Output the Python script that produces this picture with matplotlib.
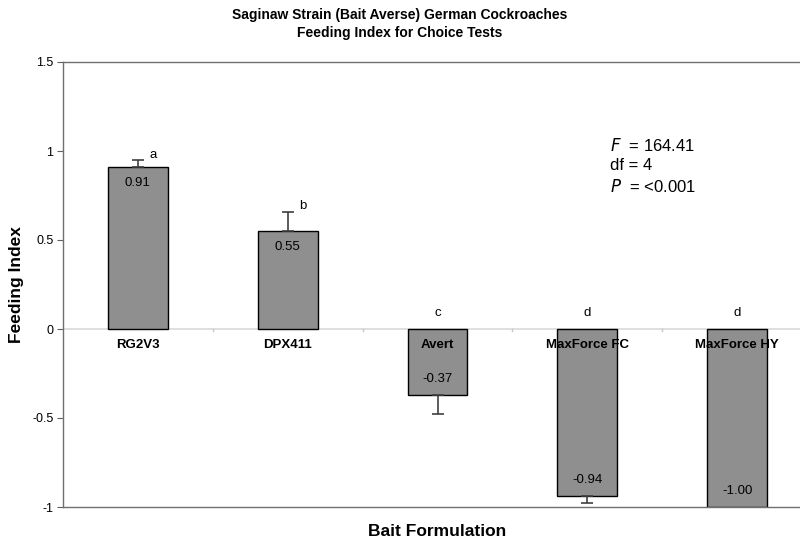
import matplotlib
matplotlib.use("Agg")
import matplotlib.pyplot as plt
import numpy as np

plt.rcParams['font.family'] = ['Liberation Sans', 'DejaVu Sans']

categories = ['RG2V3', 'DPX411', 'Avert', 'MaxForce FC', 'MaxForce HY']
means = [0.91, 0.55, -0.37, -0.94, -1.00]
errors = [0.04, 0.11, 0.11, 0.04, 0.0]
letters = ['a', 'b', 'c', 'd', 'd']
yticks = [-1, -0.5, 0, 0.5, 1, 1.5]
yticklabels = ['-1', '-0.5', '0', '0.5', '1', '1.5']

fig = plt.figure(figsize=(8.0, 5.42), dpi=100)
ax = fig.add_axes([63/800, 1 - 507/542, 749/800, 445/542])

x = np.arange(len(categories))
means_a = np.array(means)
err_a = np.array(errors)
lower = np.where(means_a < 0, err_a, 0)
upper = np.where(means_a >= 0, err_a, 0)
has = err_a > 0

ax.axhline(0, color='#d9d9d9', lw=1.2, zorder=1)
for b in x[:-1] + 0.5:
    ax.plot([b, b], [0, -0.012], color='#c8c8c8', lw=1, zorder=1)

ax.bar(x, means, width=0.4, color='#8f8f8f', edgecolor='black', linewidth=1.0, zorder=2)
ax.errorbar(x[has], means_a[has], yerr=[lower[has], upper[has]], fmt='none', ecolor='#404040',
            elinewidth=1.2, capsize=4.5, capthick=1.2, zorder=3)

for i, (m, e, lt, c) in enumerate(zip(means, errors, letters, categories)):
    sgn = 1 if m >= 0 else -1
    ax.text(i, m - sgn * 0.09, f'{m:.2f}', ha='center', va='center', fontsize=9.5, zorder=4)
    if m >= 0:
        ax.text(i + 0.1, m + e + 0.03, lt, ha='center', va='center', fontsize=9.5)
    else:
        ax.text(i, 0.09, lt, ha='center', va='center', fontsize=9.5)
    ax.text(i, -0.09, c, ha='center', va='center', fontsize=9.5, fontweight='bold', zorder=4)

ax.set_xlim(-0.5, len(categories) - 0.5)
ax.set_ylim(-1, 1.5)
ax.set_yticks(yticks)
ax.set_yticklabels(yticklabels, fontsize=9)
ax.set_xticks([])
ax.tick_params(axis='y', direction='out', length=4, color='#606060', pad=3)
for s in ['left', 'bottom', 'top', 'right']:
    ax.spines[s].set_color('#707070')
    ax.spines[s].set_linewidth(1.0)

ax.set_ylabel('Feeding Index', fontsize=12.5, fontweight='bold')
ax.yaxis.set_label_coords(-0.052, 0.5)
ax.set_xlabel('Bait Formulation', fontsize=12.5, fontweight='bold', labelpad=12)

fig.text(0.5, 1 - 15/542, 'Saginaw Strain (Bait Averse) German Cockroaches', ha='center', va='center',
         fontsize=10, fontweight='bold')
fig.text(0.5, 1 - 33/542, 'Feeding Index for Choice Tests', ha='center', va='center',
         fontsize=10, fontweight='bold')

ax.text(3.15, 1.03, '$\\it{F}$  = 164.41', fontsize=12, ha='left', va='center')
ax.text(3.15, 0.92, 'df = 4', fontsize=12, ha='left', va='center')
ax.text(3.15, 0.80, '$\\it{P}$  = <0.001', fontsize=12, ha='left', va='center')

fig.savefig('out.png', dpi=100)
